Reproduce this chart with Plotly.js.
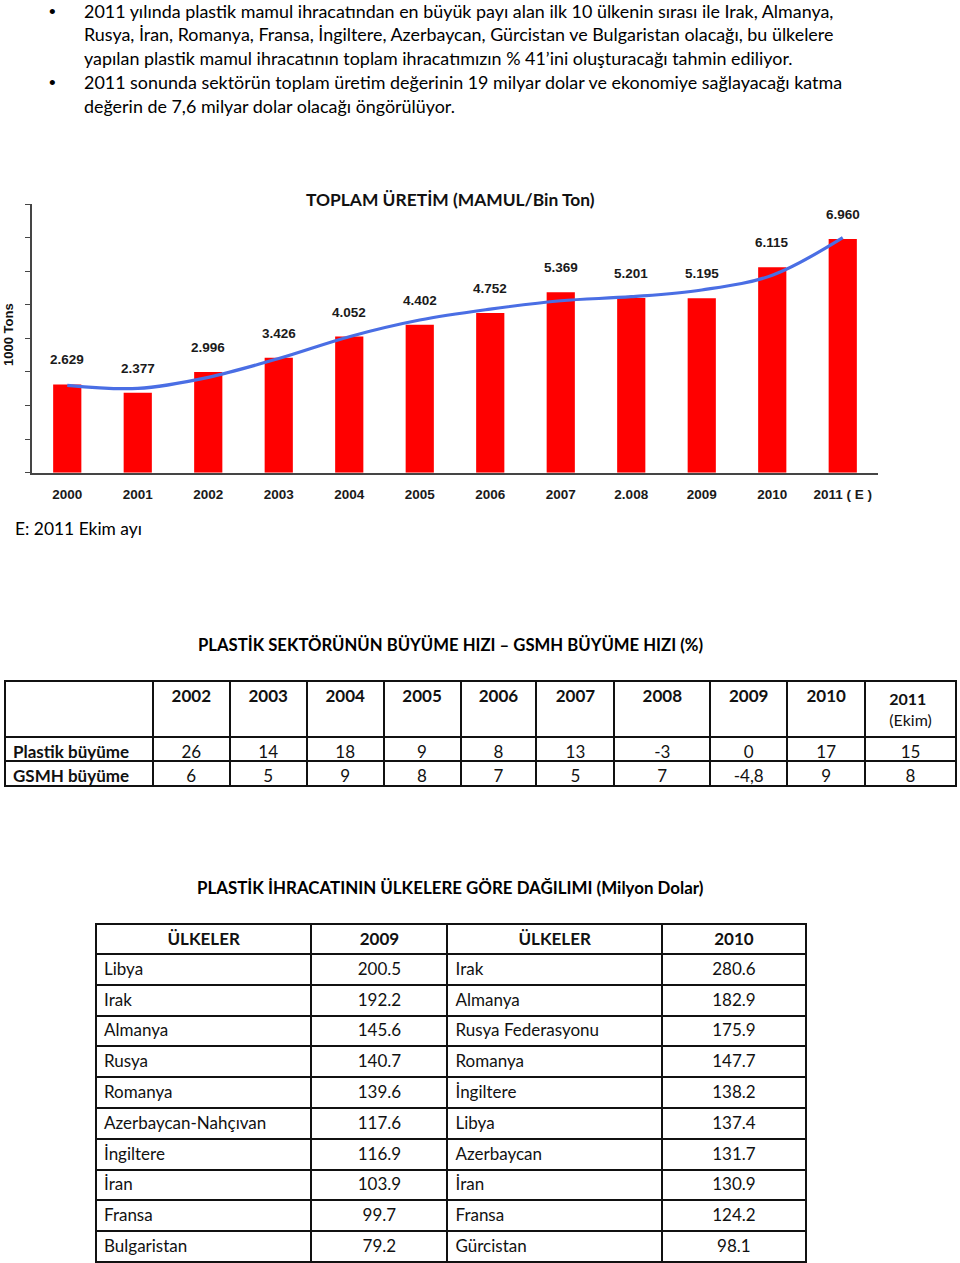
<!DOCTYPE html>
<html>
<head>
<meta charset="utf-8">
<script src="https://cdn.plot.ly/plotly-3.0.1.min.js"></script>
<style>
  html, body { margin: 0; padding: 0; background: #fff; }
  #page { width: 960px; height: 1263px; }
</style>
</head>
<body>
<div id="page"></div>
<script>
// ---------- DATA ----------
const bulletLines = [
  ["2011 yılında plastik mamul ihracatından en büyük payı alan ilk 10 ülkenin sırası ile Irak, Almanya,",
   "Rusya, İran, Romanya, Fransa, İngiltere, Azerbaycan, Gürcistan ve Bulgaristan olacağı, bu ülkelere",
   "yapılan plastik mamul ihracatının toplam ihracatımızın % 41’ini oluşturacağı tahmin ediliyor."],
  ["2011 sonunda sektörün toplam üretim değerinin 19 milyar dolar ve ekonomiye sağlayacağı katma",
   "değerin de 7,6 milyar dolar olacağı öngörülüyor."]
];
const chartTitle = "TOPLAM ÜRETİM (MAMUL/Bin Ton)";
const yAxisTitle = "1000 Tons";
const footNote = "E: 2011 Ekim ayı";

const years = ["2000", "2001", "2002", "2003", "2004", "2005", "2006", "2007", "2.008", "2009", "2010", "2011 ( E )"];
const production = [2629, 2377, 2996, 3426, 4052, 4402, 4752, 5369, 5201, 5195, 6115, 6960];
const trend = [2600, 2510, 2840, 3400, 4050, 4545, 4870, 5120, 5240, 5440, 5880, 7000];

const growthTitle = "PLASTİK SEKTÖRÜNÜN BÜYÜME HIZI – GSMH BÜYÜME HIZI (%)";
const growthYears = ["2002", "2003", "2004", "2005", "2006", "2007", "2008", "2009", "2010", "2011"];
const growthYearNotes = ["", "", "", "", "", "", "", "", "", "(Ekim)"];
const growthRowLabels = ["Plastik büyüme", "GSMH büyüme"];
const plastikGrowth = ["26", "14", "18", "9", "8", "13", "-3", "0", "17", "15"];
const gsmhGrowth = ["6", "5", "9", "8", "7", "5", "7", "-4,8", "9", "8"];

const exportTitle = "PLASTİK İHRACATININ ÜLKELERE GÖRE DAĞILIMI (Milyon Dolar)";
const exportHeaders = ["ÜLKELER", "2009", "ÜLKELER", "2010"];
const countries2009 = ["Libya", "Irak", "Almanya", "Rusya", "Romanya", "Azerbaycan-Nahçıvan", "İngiltere", "İran", "Fransa", "Bulgaristan"];
const exports2009 = [200.5, 192.2, 145.6, 140.7, 139.6, 117.6, 116.9, 103.9, 99.7, 79.2];
const countries2010 = ["Irak", "Almanya", "Rusya Federasyonu", "Romanya", "İngiltere", "Libya", "Azerbaycan", "İran", "Fransa", "Gürcistan"];
const exports2010 = [280.6, 182.9, 175.9, 147.7, 138.2, 137.4, 131.7, 130.9, 124.2, 98.1];

// ---------- HELPERS ----------
const W = 960, H = 1263;
const fx = x => x / W;
const fy = y => 1 - y / H;
const TEXT_FONT = "Lato, 'Open Sans', sans-serif";
const ARIAL = "'Liberation Sans', Arial, sans-serif";
const fmtThousands = v => (v / 1000).toFixed(3);
const nb = s => s.replace(/ /g, "\u00a0");   // keep table cells on one line

// ---------- TRACES ----------
const xIdx = years.map((_, i) => i);
const barTrace = {
  type: "bar",
  x: xIdx,
  y: production,
  marker: { color: "#ff0000" },
  width: 0.4,
  xaxis: "x", yaxis: "y",
  hoverinfo: "skip"
};
const lineTrace = {
  type: "scatter",
  mode: "lines",
  x: xIdx,
  y: trend,
  line: { color: "#4a6ee4", width: 3.2, shape: "spline", smoothing: 1 },
  xaxis: "x", yaxis: "y",
  hoverinfo: "skip"
};

const growthHeader = [""].concat(growthYears.map((y, i) =>
  growthYearNotes[i] ? "<b>" + y + "</b><br>" + growthYearNotes[i] : y));
const growthCells = [growthRowLabels.map(nb)].concat(
  growthYears.map((y, i) => [plastikGrowth[i], gsmhGrowth[i]]));

const growthTable = {
  type: "table",
  domain: { x: [fx(5), fx(957)], y: [fy(800), fy(681)] },
  columnwidth: [148, 77, 77, 77, 77, 76, 78, 96, 77, 78, 91],
  header: {
    values: growthHeader,
    align: "center",
    height: 49,
    line: { color: "#111", width: 2 },
    fill: { color: "#fff" },
    font: {
      family: TEXT_FONT,
      size: growthHeader.map((h, i) => i === growthHeader.length - 1 ? 16 : 17),
      color: "#111",
      weight: growthHeader.map((h, i) => i === growthHeader.length - 1 ? "normal" : "bold")
    }
  },
  cells: {
    values: growthCells,
    align: ["left"].concat(growthYears.map(() => "center")),
    height: 24.5,
    line: { color: "#111", width: 2 },
    fill: { color: "#fff" },
    font: {
      family: TEXT_FONT, size: 17, color: "#111",
      weight: growthCells.map((c, i) => i === 0 ? "bold" : "normal")
    }
  }
};

const exportTable = {
  type: "table",
  domain: { x: [fx(96), fx(806)], y: [0, fy(924)] },
  columnwidth: [215, 136, 214, 144],
  header: {
    values: exportHeaders,
    align: "center",
    height: 30,
    line: { color: "#111", width: 2 },
    fill: { color: "#fff" },
    font: { family: TEXT_FONT, size: 17, color: "#111", weight: "bold" }
  },
  cells: {
    values: [countries2009.map(nb), exports2009.map(v => v.toFixed(1)),
             countries2010.map(nb), exports2010.map(v => v.toFixed(1))],
    align: ["left", "center", "left", "center"],
    height: 30.8,
    line: { color: "#111", width: 2 },
    fill: { color: "#fff" },
    font: { family: TEXT_FONT, size: 17, color: "#111" }
  }
};

// ---------- ANNOTATIONS ----------
const annotations = [];
const lineYs = [[11, 34, 58], [82, 106]];
bulletLines.forEach((para, p) => {
  annotations.push({
    xref: "paper", yref: "paper", x: fx(52), y: fy(lineYs[p][0] - 11),
    xanchor: "center", yanchor: "top", showarrow: false, borderpad: 0,
    text: "•", font: { family: ARIAL, size: 19, color: "#000" }
  });
  para.forEach((line, i) => {
    annotations.push({
      xref: "paper", yref: "paper", x: fx(82), y: fy(lineYs[p][i]),
      xanchor: "left", yanchor: "middle", showarrow: false,
      text: line, font: { family: TEXT_FONT, size: 17.9, color: "#000" }
    });
  });
});
annotations.push({
  xref: "paper", yref: "paper", x: fx(450), y: fy(199),
  xanchor: "center", yanchor: "middle", showarrow: false,
  text: "<b>" + chartTitle + "</b>", font: { family: TEXT_FONT, size: 17.4, color: "#111" }
});
annotations.push({
  xref: "paper", yref: "paper", x: fx(8), y: fy(335),
  xanchor: "center", yanchor: "middle", showarrow: false, textangle: -90,
  text: "<b>" + yAxisTitle + "</b>", font: { family: ARIAL, size: 13, color: "#111" }
});
production.forEach((v, i) => {
  annotations.push({
    xref: "x", yref: "y", x: xIdx[i], y: v,
    xanchor: "center", yanchor: "bottom", yshift: 15, showarrow: false,
    text: "<b>" + fmtThousands(v) + "</b>",
    font: { family: ARIAL, size: 13.5, color: "#1a1a1a" }
  });
});
annotations.push({
  xref: "paper", yref: "paper", x: fx(13), y: fy(528),
  xanchor: "left", yanchor: "middle", showarrow: false,
  text: footNote, font: { family: TEXT_FONT, size: 17.4, color: "#000" }
});
annotations.push({
  xref: "paper", yref: "paper", x: fx(450), y: fy(645),
  xanchor: "center", yanchor: "middle", showarrow: false,
  text: "<b>" + growthTitle + "</b>", font: { family: TEXT_FONT, size: 16.7, color: "#000" }
});
annotations.push({
  xref: "paper", yref: "paper", x: fx(450), y: fy(887),
  xanchor: "center", yanchor: "middle", showarrow: false,
  text: "<b>" + exportTitle + "</b>", font: { family: TEXT_FONT, size: 16.9, color: "#000" }
});

// ---------- LAYOUT ----------
const layout = {
  width: W, height: H,
  margin: { l: 0, r: 0, t: 0, b: 0, pad: 0 },
  paper_bgcolor: "#fff", plot_bgcolor: "#fff",
  showlegend: false,
  hovermode: false,
  xaxis: {
    domain: [fx(32), fx(878)],
    range: [-0.5, years.length - 0.5],
    tickvals: xIdx, ticktext: years,
    showline: true, linecolor: "#454545", linewidth: 2,
    showgrid: false, zeroline: false,
    ticks: "outside", ticklen: 8, tickcolor: "rgba(0,0,0,0)",
    tickfont: { family: ARIAL, size: 13.5, color: "#1a1a1a", weight: "bold" },
    fixedrange: true
  },
  yaxis: {
    domain: [fy(472.7), fy(204)],
    range: [0, 8000], dtick: 1000,
    showline: true, linecolor: "#454545", linewidth: 2,
    showgrid: false, zeroline: false,
    ticks: "outside", ticklen: 5, tickwidth: 1, tickcolor: "#454545",
    showticklabels: false,
    fixedrange: true
  },
  annotations: annotations
};

Plotly.newPlot("page", [barTrace, lineTrace, growthTable, exportTable], layout,
  { displayModeBar: false, staticPlot: true });
</script>
</body>
</html>
